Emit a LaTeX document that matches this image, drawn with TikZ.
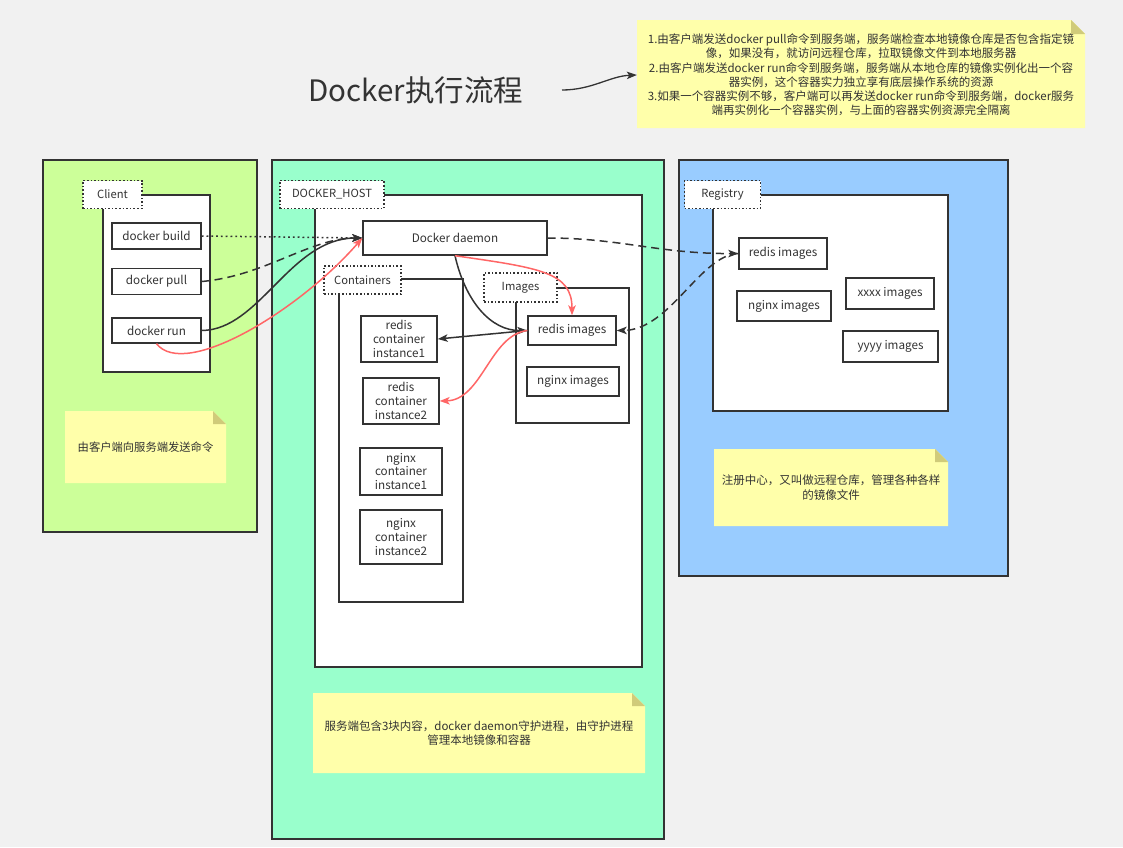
\documentclass[tikz,border=0pt]{standalone}
\usepackage{fontspec}
\setmainfont{Noto Sans CJK SC}
\XeTeXlinebreaklocale "zh"
\usetikzlibrary{arrows.meta}
\definecolor{bg}{HTML}{F1F1F1}
\definecolor{ln}{HTML}{333333}
\definecolor{cgreen}{HTML}{CCFF99}
\definecolor{hgreen}{HTML}{99FFCC}
\definecolor{rblue}{HTML}{99CCFF}
\definecolor{noteY}{HTML}{FFFFAA}
\definecolor{noteF}{HTML}{D0CB7A}
\definecolor{redl}{HTML}{FF6666}
\tikzset{
  outer/.style={draw=ln, line width=1.6pt},
  frame/.style={draw=ln, line width=1.4pt, fill=white},
  box/.style={draw=ln, line width=1.4pt, fill=white, inner sep=1pt, align=center,
    font=\fontsize{11.7}{13.8}\selectfont, text=ln},
  tabbox/.style={draw=ln, dotted, line width=1.6pt, fill=white, inner sep=1pt,
    font=\fontsize{11.2}{13}\selectfont, text=ln},
  notetext/.style={inner sep=0pt, align=center, text=ln, font=\fontsize{11.5}{14.2}\selectfont},
  conn/.style={draw=ln, line width=1.5pt, -{Stealth[length=10pt,width=7.5pt,inset=2.5pt]}},
  redconn/.style={draw=redl, line width=1.5pt, -{Stealth[length=10pt,width=7.5pt,inset=2.5pt]}},
  dashconn/.style={conn, dash pattern=on 8pt off 5pt},
  dotconn/.style={conn, dash pattern=on 1.8pt off 3pt},
}
\begin{document}
\begin{tikzpicture}[x=1pt,y=-1pt]
\fill[bg] (0,0) rectangle (1123,847);
\useasboundingbox (0,0) rectangle (1123,847);

% outer regions
\filldraw[outer, fill=cgreen] (43,160) rectangle (257,532);
\filldraw[outer, fill=hgreen] (272,160) rectangle (664,839);
\filldraw[outer, fill=rblue] (679,160) rectangle (1008,576);

% frames
\filldraw[frame] (103,195) rectangle (210,372);
\filldraw[frame] (315,195) rectangle (642,667);
\filldraw[frame] (339,279) rectangle (463,602);
\filldraw[frame] (516,288) rectangle (629,423);
\filldraw[frame] (713,195) rectangle (948,411);

% tabs
\node[tabbox, minimum width=59pt, minimum height=28pt] (tclient) at (112.5,194.5) {Client};
\node[tabbox, minimum width=104pt, minimum height=28pt] (thost) at (332,194.5) {DOCKER\_HOST};
\node[tabbox, minimum width=77pt, minimum height=28pt] (tcont) at (362.5,280) {Containers};
\node[tabbox, minimum width=73pt, minimum height=29pt] (timg) at (520.5,287.5) {Images};
\node[tabbox, minimum width=76pt, minimum height=28pt] (treg) at (722.5,194.5) {Registry};

% client boxes
\node[box, minimum width=89pt, minimum height=26pt] (build) at (156.5,236) {docker build};
\node[box, minimum width=89pt, minimum height=26pt] (pull) at (156.5,281.5) {docker pull};
\node[box, minimum width=89pt, minimum height=25pt] (run) at (156.5,330.5) {docker run};

% host boxes
\node[box, minimum width=184pt, minimum height=34pt] (daemon) at (455,238) {Docker daemon};
\node[box, minimum width=76pt, minimum height=46pt] (ri1) at (399,339) {redis\\container\\instance1};
\node[box, minimum width=76pt, minimum height=46pt] (ri2) at (401,401) {redis\\container\\instance2};
\node[box, minimum width=82pt, minimum height=47pt] (ni1) at (401,471.5) {nginx\\container\\instance1};
\node[box, minimum width=82pt, minimum height=54pt] (ni2) at (401,537) {nginx\\container\\instance2};
\node[box, minimum width=88pt, minimum height=29pt] (lredis) at (572,330.5) {redis images};
\node[box, minimum width=92pt, minimum height=29pt] (lnginx) at (573,381.5) {nginx images};

% registry boxes
\node[box, minimum width=88pt, minimum height=31pt] (rredis) at (783,253.5) {redis images};
\node[box, minimum width=94pt, minimum height=30pt] (rnginx) at (784,306) {nginx images};
\node[box, minimum width=88pt, minimum height=31pt] (rxxxx) at (890,293.5) {xxxx images};
\node[box, minimum width=95pt, minimum height=31pt] (ryyyy) at (890.5,346.5) {yyyy images};

% notes
\fill[noteY] (637,20) -- (1071,20) -- (1085,34) -- (1085,128) -- (637,128) -- cycle;
\fill[noteF] (1071,20) -- (1071,34) -- (1085,34) -- cycle;
\node[notetext, minimum width=448pt, minimum height=108pt] (topnote) at (861,75)
 {1.由客户端发送docker pull命令到服务端，服务端检查本地镜像仓库是否包含指定镜\\
  像，如果没有，就访问远程仓库，拉取镜像文件到本地服务器\\
  2.由客户端发送docker run命令到服务端，服务端从本地仓库的镜像实例化出一个容\\
  器实例，这个容器实力独立享有底层操作系统的资源\\
  3.如果一个容器实例不够，客户端可以再发送docker run命令到服务端，docker服务\\
  端再实例化一个容器实例，与上面的容器实例资源完全隔离};

\fill[noteY] (65,411) -- (213,411) -- (226,424) -- (226,483) -- (65,483) -- cycle;
\fill[noteF] (213,411) -- (213,424) -- (226,424) -- cycle;
\node[notetext, font=\fontsize{11.3}{14}\selectfont] (cnote) at (145.5,447) {由客户端向服务端发送命令};

\fill[noteY] (313,693) -- (632,693) -- (645,706) -- (645,773) -- (313,773) -- cycle;
\fill[noteF] (632,693) -- (632,706) -- (645,706) -- cycle;
\node[notetext, font=\fontsize{11.5}{14}\selectfont] (hnote) at (479,733)
 {服务端包含3块内容，docker daemon守护进程，由守护进程\\管理本地镜像和容器};

\fill[noteY] (714,449) -- (935,449) -- (948,462) -- (948,526) -- (714,526) -- cycle;
\fill[noteF] (935,449) -- (935,462) -- (948,462) -- cycle;
\node[notetext, font=\fontsize{11.5}{15}\selectfont] (rnote) at (831,487.5)
 {注册中心，又叫做远程仓库，管理各种各样\\的镜像文件};

% title
\node[text=ln, font=\fontsize{29.5}{33}\selectfont] (title) at (416,90) {Docker执行流程};
\coordinate (tstart) at (562,90);
\draw[conn, line width=1.3pt] (tstart) .. controls (592,90) and (610,76) .. (topnote.west);

% client -> daemon
\draw[dotconn] (build.east) -- (daemon.west);
\draw[dashconn] (pull.east) .. controls (265,276) and (310,238) .. (daemon.west);
\draw[conn] (run.east) .. controls (260,330) and (290,238) .. (daemon.west);
\draw[redconn] (run.south) .. controls (185,380) and (300,310) .. (daemon.west);

% daemon <-> registry
\draw[dashconn] (daemon.east) .. controls (620,238) and (660,254) .. (rredis.west);
\draw[dashconn] (rredis.west) .. controls (700,255) and (670,330) .. (lredis.east);

% daemon -> local images
\draw[conn] (daemon.south) .. controls (465,300) and (490,331) .. (lredis.west);
\draw[redconn] (daemon.south) .. controls (540,268) and (572,272) .. (lredis.north);

% images -> containers
\draw[conn] (lredis.west) -- (ri1.east);
\draw[redconn] (lredis.west) .. controls (490,335) and (482,400) .. (ri2.east);
\end{tikzpicture}
\end{document}
